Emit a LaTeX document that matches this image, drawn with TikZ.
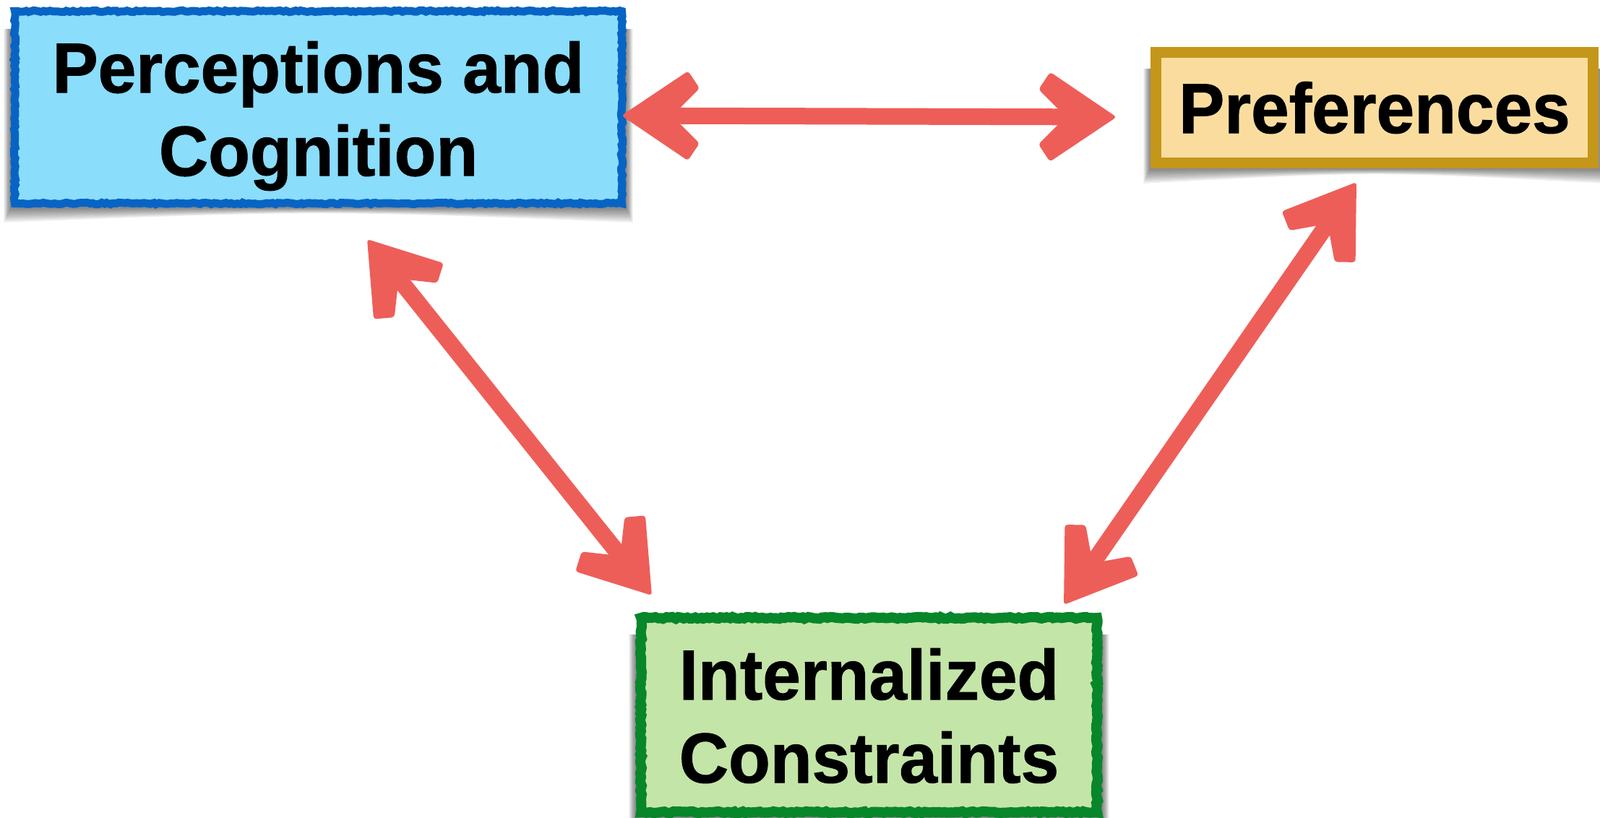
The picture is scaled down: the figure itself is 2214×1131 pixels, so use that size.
\documentclass[tikz,border=0pt]{standalone}
\usepackage{fontspec}
\setmainfont{Liberation Sans}
\newfontfamily\labelfont{Liberation Sans}[FakeStretch=0.965,BoldFeatures={FakeBold=1}]
\usetikzlibrary{calc,backgrounds,decorations.pathmorphing,decorations.markings}
\definecolor{bluefill}{RGB}{138,221,251}
\definecolor{blueline}{RGB}{8,100,196}
\definecolor{goldfill}{RGB}{250,221,158}
\definecolor{goldline}{RGB}{196,150,26}
\definecolor{greenfill}{RGB}{196,229,168}
\definecolor{greenline}{RGB}{8,134,42}
\definecolor{arrowred}{RGB}{238,94,88}
\begin{document}
\begin{tikzpicture}[x=0.5pt,y=-0.5pt,
  chalk/.style={decorate,decoration={random steps,segment length=2pt,amplitude=0.6pt}},
  box/.style={rectangle,inner sep=0pt},
  lbl/.style={inner sep=0pt,align=center,text=black,font=\fontsize{49pt}{57.5pt}\labelfont\bfseries},
  link/.style={draw=arrowred,line width=11.5pt,line join=round,shorten <=20pt,shorten >=20pt,
    postaction={decorate,decoration={markings,
      mark=at position 0 with {\fill[arrowred,rounded corners=2pt] (0,0) -- (92,-62) -- (108,-38) -- (70,0) -- (108,38) -- (92,62) -- cycle;},
      mark=at position 1 with {\fill[arrowred,rounded corners=2pt] (0,0) -- (-92,-62) -- (-108,-38) -- (-70,0) -- (-108,38) -- (-92,62) -- cycle;}}}}]
\useasboundingbox (0,0) rectangle (2214,1131);
% boxes
\node[box,chalk,fill=bluefill,draw=blueline,line width=5.5pt,minimum width=420pt,minimum height=133pt] (pc) at (440.5,148.5) {};
\node[box,fill=goldfill,draw=goldline,line width=7.5pt,minimum width=302.5pt,minimum height=76.5pt] (pref) at (1902,149) {};
\node[box,chalk,fill=greenfill,draw=greenline,line width=7pt,minimum width=315.5pt,minimum height=134.5pt] (ic) at (1202.5,989.5) {};
% labels
\node[lbl] (pc-text) at (440.5,160.5) {Perceptions and\\Cognition};
\node[lbl] (pref-text) at (1902,149) {Preferences};
\node[lbl] (ic-text) at (1202.5,990.5) {Internalized\\Constraints};
% background and shadows
\begin{scope}[on background layer]
\fill[white] (0,0) rectangle (2214,1131);
\foreach \n in {pc,pref,ic} {
  \foreach \k in {1,...,8} {
    \fill[black,opacity=0.07]
      ($(\n.north west)+(-\k*1.2,30)$) -- ($(\n.south west)+(-\k*1.2,\k*2.6)$)
      .. controls ($(\n.south)+(0,\k*0.5)$) .. ($(\n.south east)+(\k*1.2,\k*2.6)$)
      -- ($(\n.north east)+(\k*1.2,30)$) -- cycle;
  }
}
\end{scope}
% connectors
\draw[link] ($(pc.east)+(-6,11.5)$) -- ($(pref.west)+(-47,13)$);
\draw[link] ($(pc.south)+(67.5,44)$) -- ($(ic.north west)+(22,-24)$);
\draw[link] ($(pref.south)+(-25,19)$) -- ($(ic.north east)+(-53,-11)$);
\end{tikzpicture}
\end{document}
